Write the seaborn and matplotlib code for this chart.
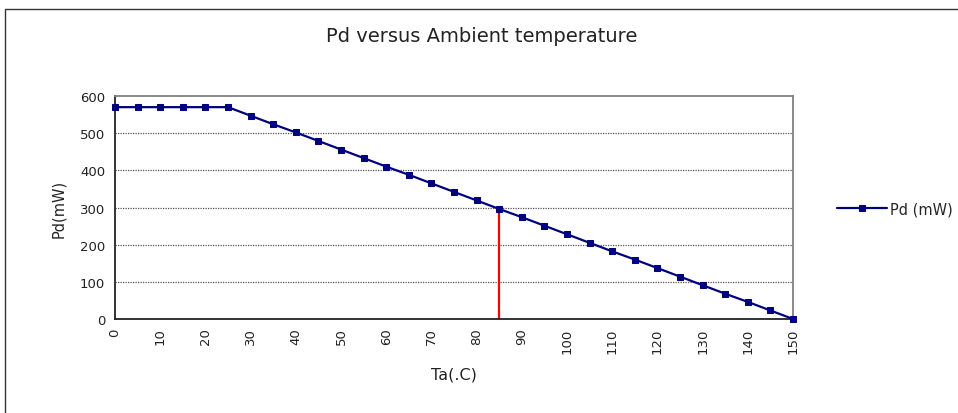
import matplotlib
matplotlib.use("Agg")
import matplotlib.pyplot as plt
import seaborn as sns
import pandas as pd
from matplotlib.patches import Rectangle

temps = [0, 5, 10, 15, 20, 25, 30, 35, 40, 45, 50, 55, 60, 65, 70, 75, 80, 85,
         90, 95, 100, 105, 110, 115, 120, 125, 130, 135, 140, 145, 150]
pd_mw = [570, 570, 570, 570, 570, 570, 547, 524, 502, 479, 456, 433, 410, 388,
         365, 342, 319, 296, 274, 251, 228, 205, 182, 160, 137, 114, 91, 68, 46, 23, 0]
marker_temp = 85
marker_top = 285
y_ticks = [0, 100, 200, 300, 400, 500, 600]

sns.set_theme(style="white")
plt.rcParams['font.family'] = ['DejaVu Sans']

df = pd.DataFrame({"Ta": temps, "Pd (mW)": pd_mw})

fig = plt.figure(figsize=(9.58, 4.14), dpi=100)
ax = fig.add_axes([115/958, 1 - 320/414, (793-115)/958, (320-97)/414])

# outer chart frame
fig.patches.append(Rectangle((5/958, -0.05), 1.0, 1 - 10/414 + 0.05,
                             transform=fig.transFigure, fill=False,
                             edgecolor="#333333", linewidth=1.0))

for y in y_ticks[1:-1]:
    ax.axhline(y, color="#555555", linestyle=(0, (1, 1)), linewidth=0.9, zorder=1)

ax.vlines(marker_temp, 0, marker_top, color="#ff0000", linewidth=1.6, zorder=2)

sns.lineplot(data=df, x="Ta", y="Pd (mW)", ax=ax, color="#000080", marker="s",
             markersize=5, markeredgecolor="#000080", linewidth=1.6,
             label="Pd (mW)", zorder=3, clip_on=False)

ax.set_xlim(0, 150)
ax.set_ylim(0, 600)
ax.set_xticks(list(range(0, 151, 5)))
ax.set_xticklabels([str(t) if t % 10 == 0 else "" for t in range(0, 151, 5)],
                   rotation=90, fontsize=9.5, color="#222222")
ax.set_yticks(y_ticks)
ax.set_yticklabels([str(v) for v in y_ticks], fontsize=9.5, color="#222222")
ax.tick_params(axis="x", direction="in", length=4, width=1, color="#222222", pad=6)
ax.tick_params(axis="y", length=0, pad=7)

for side in ["left", "bottom"]:
    ax.spines[side].set_color("#222222")
    ax.spines[side].set_linewidth(1.3)
for side in ["top", "right"]:
    ax.spines[side].set_color("#808080")
    ax.spines[side].set_linewidth(1.3)

ax.set_xlabel("Ta(.C)", fontsize=11.5, color="#222222", labelpad=10)
ax.set_ylabel("Pd(mW)", fontsize=10.5, color="#222222", labelpad=10)
fig.suptitle("Pd versus Ambient temperature", x=482/958, y=1 - 37/414,
             va="center", fontsize=14, color="#222222")

ax.legend(loc="center left", bbox_to_anchor=(837/958, 1 - 210/414),
          bbox_transform=fig.transFigure, frameon=False,
          fontsize=10.5, handlelength=3.4, handletextpad=0.2,
          borderaxespad=0, borderpad=0)

fig.savefig("out.png", dpi=100)
